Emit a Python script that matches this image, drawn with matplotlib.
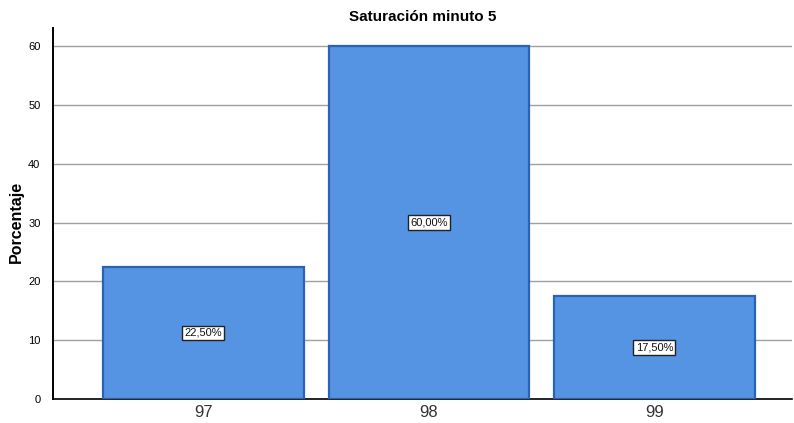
import matplotlib
matplotlib.use("Agg")
import matplotlib.pyplot as plt

plt.rcParams["font.family"] = ["Liberation Sans", "DejaVu Sans"]

categories = ["97", "98", "99"]
percentages = [22.5, 60.0, 17.5]
yticks = [0, 10, 20, 30, 40, 50, 60]

W, H = 794, 423
fig = plt.figure(figsize=(W / 100, H / 100), dpi=100)
ax = fig.add_axes([53 / W, 1 - 399 / H, (792 - 53) / W, (399 - 28) / H])

x = list(range(len(categories)))
ax.bar(x, percentages, width=0.89, color="#5593E3", edgecolor="#2A62B5",
       linewidth=1.6, zorder=3)

for xi, v in zip(x, percentages):
    ax.text(xi, v / 2, f"{v:.2f}%".replace(".", ","), ha="center", va="center",
            fontsize=8, color="#111111", zorder=5,
            bbox=dict(boxstyle="square,pad=0.2", facecolor="white",
                      edgecolor="#222222", linewidth=1))

ax.set_xlim(-0.667, 2.61)
ax.set_ylim(0, 63.1)
ax.set_yticks(yticks)
ax.set_xticks(x)
ax.set_xticklabels(categories, fontsize=12, color="#333333")
ax.tick_params(axis="y", labelsize=8, length=0, pad=9)
ax.tick_params(axis="x", length=0, pad=4)
ax.grid(axis="y", color="#a0a0a0", linewidth=1, zorder=0)
for s in ["top", "right"]:
    ax.spines[s].set_visible(False)
ax.spines["left"].set_linewidth(1.4)
ax.spines["bottom"].set_linewidth(1.2)

fig.text(16 / W, 1 - 222 / H, "Porcentaje", rotation=90, ha="center",
         va="center", fontsize=11.5, fontweight="bold")
fig.text(423 / W, 1 - 17 / H, "Saturación minuto 5", ha="center", va="center",
         fontsize=11, fontweight="bold")

fig.savefig("out.png", dpi=100)
